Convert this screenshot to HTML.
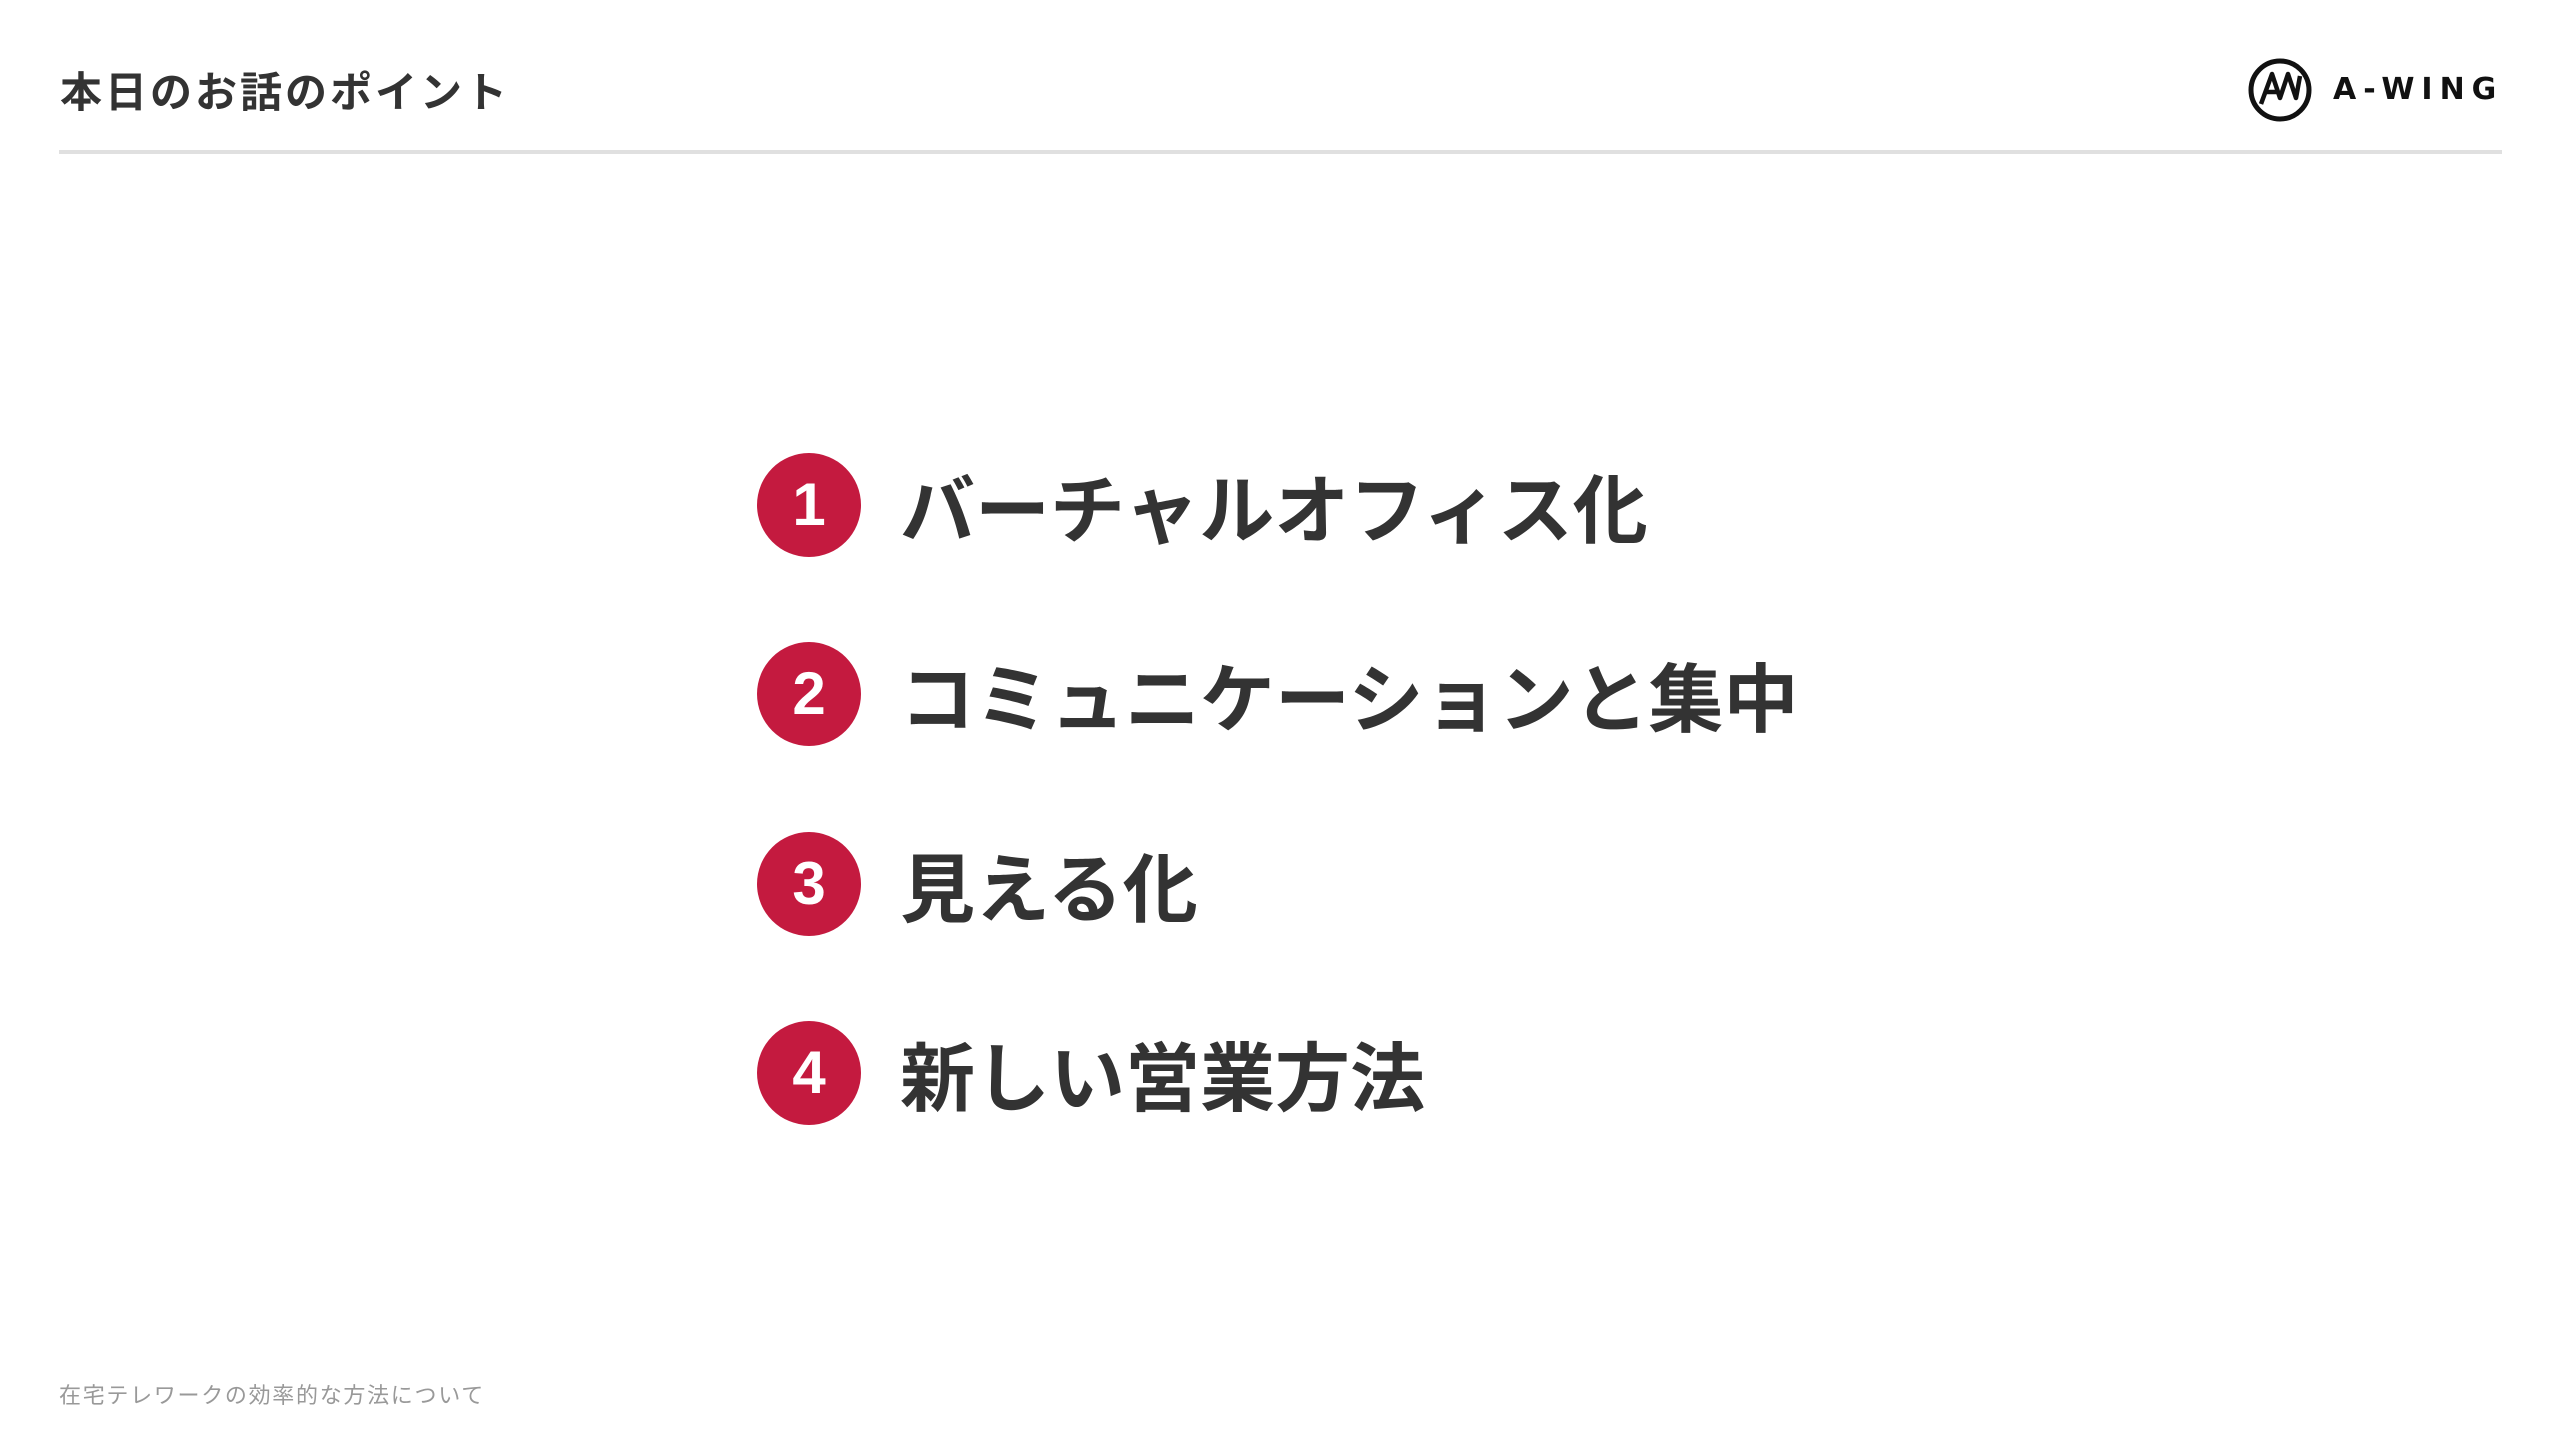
<!DOCTYPE html>
<html><head><meta charset="utf-8"><style>
html,body{margin:0;padding:0;background:#fff;}
body{width:2560px;height:1440px;position:relative;overflow:hidden;font-family:"Liberation Sans","Noto Sans CJK JP",sans-serif;}
.title{position:absolute;left:60px;top:66px;font-size:42px;font-weight:700;color:#333;letter-spacing:3px;line-height:54px;}
.rule{position:absolute;left:59px;top:150px;width:2443px;height:4px;background:#e0e0e0;}
.logo{position:absolute;left:2248px;top:58px;width:64px;height:64px;}
.brand{position:absolute;left:2333px;top:72px;font-size:30px;font-weight:600;color:#111;letter-spacing:7px;line-height:36px;font-family:"DejaVu Sans","Liberation Sans",sans-serif;}
.row{position:absolute;left:757px;height:104px;}
.num{position:absolute;left:0;top:0;width:104px;height:104px;border-radius:50%;background:#c41a3f;color:#fff;font-size:60px;font-weight:700;text-align:center;line-height:104px;font-family:"Liberation Sans Narrow","Liberation Sans",sans-serif;}
.txt{position:absolute;left:143px;top:0;line-height:104px;font-size:75px;font-weight:700;color:#333;white-space:nowrap;font-family:"Noto Sans CJK JP",sans-serif;}
.foot{position:absolute;left:59px;top:1382px;font-size:22px;color:#999;line-height:28px;letter-spacing:1.7px;}
</style></head><body>
<div class="title">本日のお話のポイント</div>
<svg class="logo" viewBox="0 0 64 64"><circle cx="32" cy="32" r="29" fill="none" stroke="#111" stroke-width="5"/><path d="M13 46 L24 16 L32 40 L40 16 L48 40 L52 18 M18 34 L30 34" fill="none" stroke="#111" stroke-width="4.5" stroke-linejoin="round"/></svg>
<div class="brand">A-WING</div>
<div class="rule"></div>
<div class="row" style="top:453px"><div class="num">1</div><div class="txt">バーチャルオフィス化</div></div>
<div class="row" style="top:642px"><div class="num">2</div><div class="txt">コミュニケーションと集中</div></div>
<div class="row" style="top:832px"><div class="num">3</div><div class="txt">見える化</div></div>
<div class="row" style="top:1021px"><div class="num">4</div><div class="txt">新しい営業方法</div></div>
<div class="foot">在宅テレワークの効率的な方法について</div>
</body></html>
